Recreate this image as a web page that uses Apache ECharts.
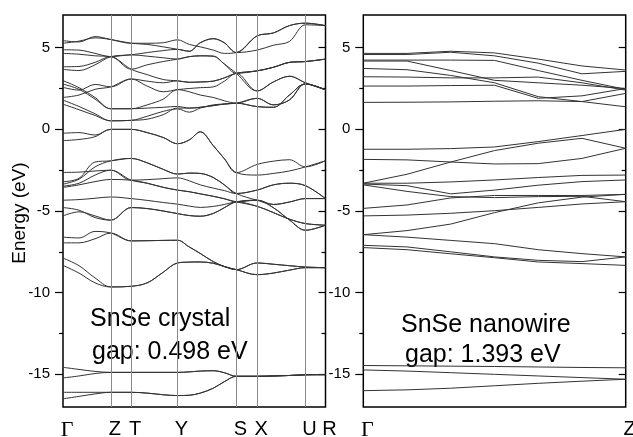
<!DOCTYPE html>
<html><head><meta charset="utf-8">
<script src="https://cdn.jsdelivr.net/npm/echarts@6/dist/echarts.min.js"></script>
<style>html,body{margin:0;padding:0;background:#fff}#c{width:633px;height:437px}</style>
</head><body><div id="c"></div>
<script>
// ---------- k-paths ----------
const kLeft = [0, 16, 32, 47.7, 68, 84, 100, 114.3, 126, 137, 150, 161, 173, 193.7, 210, 226, 242, 262];
const symPosLeft = [0, 47.7, 68, 114.3, 173, 193.7, 242, 262];
const symLabelsLeft = ['Γ', 'Z', 'T', 'Y', 'S', 'X', 'U', 'R'];
const kRight = [0, 0.1667, 0.3333, 0.5, 0.6667, 0.8333, 1];
const symPosRight = [0, 1];
const symLabelsRight = ['Γ', 'Z'];
const yTicks = [-15, -10, -5, 0, 5];
const yMinor = [-12.5, -7.5, -2.5, 2.5];

// ---------- SnSe crystal bands (eV) ----------
const c1 = [5.43, 5.35, 5.68, 5.5, 5.27, 5.27, 5.3, 5.48, 5.2, 5.05, 4.85, 4.65, 4.7, 5.72, 5.9, 6.35, 6.5, 6.35];
const c2 = [5.27, 5.4, 5.6, 5.5, 5.27, 5.2, 5.05, 4.9, 4.78, 5.3, 5.55, 5.3, 4.7, 4.85, 5.15, 5.38, 6.4, 6.35];
const c3 = [4.87, 4.85, 4.65, 4.45, 4.56, 4.48, 4.38, 4.3, 4.45, 4.5, 4.48, 4.0, 3.43, 2.35, 2.9, 3.25, 2.85, 2.42];
const c4 = [4.65, 4.6, 4.5, 4.45, 3.68, 3.35, 3.05, 2.97, 2.88, 2.9, 2.95, 3.15, 3.43, 3.58, 3.8, 4.1, 4.15, 4.3];
const c5 = [3.83, 3.85, 4.1, 4.45, 3.68, 3.95, 4.15, 4.3, 4.45, 4.5, 4.48, 4.0, 3.43, 3.58, 3.8, 4.1, 4.15, 4.3];
const c6 = [3.67, 3.6, 3.95, 4.45, 4.56, 4.7, 4.82, 4.9, 4.78, 5.3, 5.55, 5.3, 4.7, 5.72, 5.9, 6.35, 6.5, 6.35];
const c7 = [2.98, 2.55, 1.95, 1.26, 1.26, 1.5, 1.85, 2.43, 2.3, 2.1, 1.95, 1.75, 1.6, 1.9, 1.5, 1.8, 2.78, 2.42];
const c8 = [2.77, 2.45, 1.85, 1.26, 1.26, 1.3, 1.35, 1.4, 1.3, 1.35, 1.45, 1.55, 1.6, 1.39, 1.35, 2.1, 2.78, 2.42];
const c9 = [2.57, 2.4, 2.75, 2.6, 3.08, 2.65, 2.3, 2.43, 2.5, 2.55, 2.6, 2.95, 3.43, 2.35, 2.9, 3.25, 2.85, 2.42];
const c10 = [1.95, 2.1, 2.45, 2.6, 3.08, 2.95, 2.85, 2.97, 2.88, 2.9, 2.95, 3.15, 3.43, 3.58, 3.8, 4.1, 4.15, 4.3];
const c11 = [1.79, 1.4, 0.95, 0.52, 0.55, 0.8, 1.1, 1.25, 1.05, 1.3, 1.5, 1.55, 1.6, 1.39, 1.35, 2.1, 2.78, 2.42];
const c12 = [1.54, 1.2, 0.85, 0.52, 0.55, 0.62, 0.9, 1.3, 1.3, 1.35, 1.45, 1.55, 1.6, 1.9, 1.5, 1.8, 2.78, 2.42];
const v1 = [-0.24, -0.2, -0.35, 0, 0, -0.2, -0.5, -0.88, -0.65, -0.15, -1.0, -1.8, -2.65, -2.15, -1.95, -1.86, -2.3, -1.92];
const v2 = [-0.69, -0.62, -0.45, 0, 0, -0.2, -0.5, -0.88, -0.65, -0.15, -1.0, -1.8, -2.65, -2.8, -2.7, -2.55, -2.3, -1.92];
const v3 = [-3.21, -3.0, -2.0, -1.93, -1.78, -2.05, -2.45, -2.74, -2.68, -2.7, -2.95, -3.4, -3.93, -3.72, -3.4, -3.3, -3.45, -4.24];
const v4 = [-3.36, -3.05, -2.3, -1.93, -1.78, -2.05, -2.45, -2.74, -2.68, -2.7, -2.95, -3.4, -3.93, -4.34, -4.6, -4.45, -4.24, -4.24];
const v5 = [-2.64, -2.62, -2.55, -2.5, -3.11, -3.08, -3.02, -2.97, -3.15, -3.4, -3.6, -3.75, -3.93, -3.72, -3.4, -3.3, -3.45, -4.24];
const v6 = [-3.48, -3.3, -2.8, -2.5, -3.11, -3.3, -3.55, -3.72, -3.82, -3.95, -4.1, -4.25, -4.44, -4.34, -4.8, -5.55, -6.18, -5.87];
const v7 = [-3.56, -3.4, -3.2, -3.07, -3.11, -3.3, -3.55, -3.72, -3.82, -3.95, -4.1, -4.25, -4.44, -4.71, -5.1, -5.5, -5.77, -5.87];
const v8 = [-4.34, -4.3, -4.22, -4.14, -4.24, -4.35, -4.48, -4.58, -4.7, -4.78, -4.72, -4.6, -4.44, -4.34, -4.6, -4.45, -4.24, -4.24];
const v9 = [-4.79, -4.95, -5.4, -5.56, -4.79, -4.85, -5.0, -5.16, -5.28, -5.32, -5.15, -4.8, -4.44, -4.71, -5.1, -5.5, -5.77, -5.87];
const v10 = [-5.3, -5.05, -5.3, -5.56, -4.79, -4.85, -5.0, -5.16, -5.28, -5.32, -5.15, -4.8, -4.44, -4.34, -4.8, -5.55, -6.18, -5.87];
const s1 = [-6.6, -6.65, -6.25, -6.35, -6.83, -6.82, -6.8, -6.79, -7.2, -7.6, -8.1, -8.4, -8.59, -8.18, -8.26, -8.35, -8.43, -8.47];
const s2 = [-6.95, -6.95, -6.7, -6.35, -6.83, -6.82, -6.8, -6.79, -7.2, -7.6, -8.1, -8.4, -8.59, -8.9, -8.8, -8.62, -8.47, -8.47];
const s3 = [-7.88, -8.35, -9.1, -9.65, -9.61, -9.4, -8.75, -8.18, -8.13, -8.12, -8.2, -8.4, -8.59, -8.18, -8.26, -8.35, -8.43, -8.47];
const s4 = [-8.33, -8.8, -9.4, -9.65, -9.61, -9.4, -8.75, -8.18, -8.13, -8.12, -8.2, -8.4, -8.59, -8.9, -8.8, -8.62, -8.47, -8.47];
const d1 = [-14.57, -14.7, -14.82, -14.88, -14.88, -14.88, -14.88, -14.88, -14.85, -14.8, -14.78, -14.9, -15.12, -15.12, -15.1, -15.07, -15.03, -15.02];
const d2 = [-15.22, -15.1, -14.95, -14.88, -14.88, -14.88, -14.88, -14.88, -14.85, -14.8, -14.78, -14.9, -15.12, -15.12, -15.1, -15.07, -15.03, -15.02];
const d3 = [-16.1, -16.1, -16.1, -16.1, -16.1, -16.15, -16.25, -16.3, -16.28, -16.15, -15.85, -15.45, -15.12, -15.12, -15.1, -15.07, -15.03, -15.02];
const d4 = [-16.5, -16.35, -16.2, -16.1, -16.1, -16.15, -16.25, -16.3, -16.28, -16.15, -15.85, -15.45, -15.12, -15.12, -15.1, -15.07, -15.03, -15.02];

// ---------- SnSe nanowire bands (eV) ----------
const r1 = [4.65, 4.65, 4.78, 4.68, 4.3, 3.88, 3.63];
const r2 = [4.58, 4.58, 4.72, 4.5, 4.05, 3.4, 3.55];
const r3 = [4.24, 4.24, 4.24, 4.22, 3.6, 3.0, 2.45];
const r4 = [4.18, 4.18, 3.6, 3.0, 2.85, 2.7, 2.5];
const r5 = [3.73, 3.65, 3.3, 2.85, 2.0, 1.7, 2.2];
const r6 = [3.22, 3.2, 3.15, 3.15, 3.2, 2.85, 2.4];
const r7 = [2.65, 2.65, 2.68, 2.7, 1.9, 2.05, 2.5];
const r8 = [1.65, 1.66, 1.68, 1.72, 1.75, 1.7, 1.38];
const rv1 = [-1.22, -1.22, -1.18, -1.08, -0.75, -0.38, 0.0];
const rv2 = [-1.84, -1.87, -2.0, -2.12, -2.1, -1.78, -1.16];
const rv3 = [-3.3, -2.75, -2.0, -1.3, -0.85, -0.55, -1.16];
const rv4 = [-3.3, -3.3, -3.22, -3.1, -2.95, -2.82, -2.8];
const rv5 = [-3.35, -3.45, -3.95, -3.72, -3.42, -3.2, -3.1];
const rv6 = [-3.4, -3.8, -4.12, -4.18, -4.12, -4.1, -4.43];
const rv7 = [-4.84, -4.63, -4.2, -4.05, -4.05, -4.05, -3.98];
const rv8 = [-5.3, -5.25, -5.14, -4.98, -4.78, -4.57, -4.43];
const rv9 = [-6.45, -6.2, -5.8, -5.1, -4.5, -4.15, -3.98];
const rv10 = [-6.45, -6.6, -6.8, -7.0, -7.37, -7.61, -7.81];
const rv11 = [-7.1, -7.2, -7.5, -7.81, -8.02, -8.1, -7.81];
const rv12 = [-7.24, -7.37, -7.62, -7.86, -8.12, -8.22, -8.33];
const rd1 = [-14.46, -14.48, -14.5, -14.52, -14.55, -14.58, -14.6];
const rd2 = [-14.73, -14.8, -14.9, -15.0, -15.1, -15.2, -15.3];
const rd3 = [-16.0, -15.95, -15.85, -15.7, -15.55, -15.42, -15.3];

const leftBands = [c1, c2, c3, c4, c5, c6, c7, c8, c9, c10, c11, c12, v1, v2, v3, v4, v5, v6, v7, v8, v9, v10, s1, s2, s3, s4, d1, d2, d3, d4];
const rightBands = [r1, r2, r3, r4, r5, r6, r7, r8, rv1, rv2, rv3, rv4, rv5, rv6, rv7, rv8, rv9, rv10, rv11, rv12, rd1, rd2, rd3];

const FONT = 'Liberation Sans, Arial, sans-serif';
const lineCol = '#333';

function labelFmt(pos, labels) {
  return function (v) {
    let best = 0;
    for (let i = 1; i < pos.length; i++) if (Math.abs(pos[i] - v) < Math.abs(pos[best] - v)) best = i;
    const t = labels[best];
    return t === 'Γ' ? '{g|Γ}' : t;
  };
}
function xAxisDef(grid, max, pos, labels) {
  return {
    type: 'value', gridIndex: grid, min: 0, max: max,
    axisLine: { show: false }, axisTick: { show: false }, splitLine: { show: false },
    axisLabel: {
      customValues: pos, formatter: labelFmt(pos, labels), margin: 12,
      fontSize: 20, color: '#000', fontFamily: FONT, padding: [0, 0, 0, 8],
      rich: { g: { fontFamily: 'Liberation Serif, Times New Roman, serif', fontSize: 22, color: '#000' } }
    }
  };
}
function yAxesFor(grid) {
  const base = { type: 'value', gridIndex: grid, min: -17, max: 7, splitLine: { show: false }, axisLine: { show: false } };
  return [
    Object.assign({}, base, { position: 'left',
      axisTick: { customValues: yTicks, length: 8, lineStyle: { color: '#000', width: 1.2 } },
      axisLabel: { customValues: yTicks, margin: 13, fontSize: 15, color: '#000', fontFamily: FONT } }),
    Object.assign({}, base, { position: 'left',
      axisTick: { customValues: yMinor, length: 4, lineStyle: { color: '#000', width: 1.2 } },
      axisLabel: { show: false } }),
    Object.assign({}, base, { position: 'right',
      axisTick: { customValues: yTicks, inside: true, length: 7, lineStyle: { color: '#000', width: 1.2 } },
      axisLabel: { show: false } }),
    Object.assign({}, base, { position: 'right',
      axisTick: { customValues: yMinor, inside: true, length: 4, lineStyle: { color: '#000', width: 1.2 } },
      axisLabel: { show: false } })
  ];
}

const series = [];
series.push({
  type: 'line', xAxisIndex: 0, yAxisIndex: 0, data: [], silent: true,
  markLine: {
    symbol: 'none', silent: true, animation: false, label: { show: false },
    lineStyle: { color: '#8a8a8a', width: 1, type: 'solid' },
    data: symPosLeft.slice(1, -1).map(x => ({ xAxis: x }))
  }
});
leftBands.forEach(b => series.push({
  type: 'line', xAxisIndex: 0, yAxisIndex: 0, showSymbol: false, smooth: 0.35, silent: true,
  lineStyle: { color: lineCol, width: 1 }, data: kLeft.map((k, i) => [k, b[i]])
}));
rightBands.forEach(b => series.push({
  type: 'line', xAxisIndex: 1, yAxisIndex: 4, showSymbol: false, smooth: false, silent: true,
  lineStyle: { color: lineCol, width: 1 }, data: kRight.map((k, i) => [k, b[i]])
}));

const chart = echarts.init(document.getElementById('c'), null, { renderer: 'canvas' });
chart.setOption({
  animation: false,
  backgroundColor: '#fff',
  grid: [
    { left: 63, top: 15, width: 262.5, height: 392, containLabel: false, outerBoundsMode: 'none',
      show: true, borderColor: '#000', borderWidth: 1.5, backgroundColor: 'transparent' },
    { left: 363.3, top: 15, width: 262.4, height: 392, containLabel: false, outerBoundsMode: 'none',
      show: true, borderColor: '#000', borderWidth: 1.5, backgroundColor: 'transparent' }
  ],
  xAxis: [xAxisDef(0, 262, symPosLeft, symLabelsLeft), xAxisDef(1, 1, symPosRight, symLabelsRight)],
  yAxis: yAxesFor(0).concat(yAxesFor(1)),
  series: series,
  graphic: [
    { type: 'text', x: 20, y: 213, rotation: Math.PI / 2, silent: true,
      style: { text: 'Energy (eV)', fontSize: 19, fontFamily: FONT, fill: '#000', align: 'center', verticalAlign: 'middle' } },
    { type: 'text', x: 90, y: 319, silent: true,
      style: { text: 'SnSe crystal', fontSize: 25, fontFamily: FONT, fill: '#000', align: 'left', verticalAlign: 'middle' } },
    { type: 'text', x: 92, y: 352, silent: true,
      style: { text: 'gap: 0.498 eV', fontSize: 25, fontFamily: FONT, fill: '#000', align: 'left', verticalAlign: 'middle' } },
    { type: 'text', x: 401, y: 325, silent: true,
      style: { text: 'SnSe nanowire', fontSize: 25, fontFamily: FONT, fill: '#000', align: 'left', verticalAlign: 'middle' } },
    { type: 'text', x: 405, y: 355, silent: true,
      style: { text: 'gap: 1.393 eV', fontSize: 25, fontFamily: FONT, fill: '#000', align: 'left', verticalAlign: 'middle' } }
  ]
});
</script></body></html>
